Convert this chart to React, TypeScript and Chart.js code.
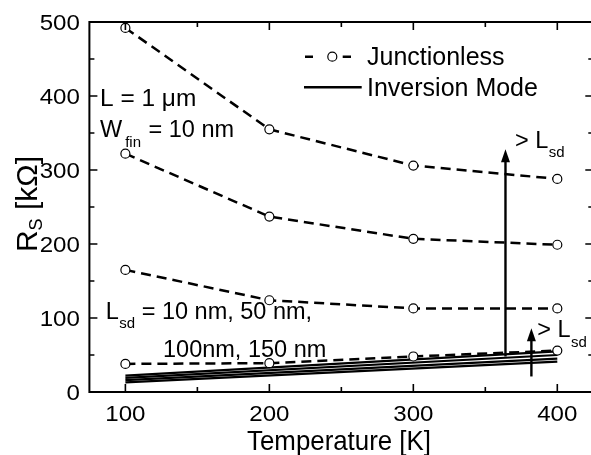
import { useEffect, useRef } from "react";
import { Chart, registerables } from "chart.js";

Chart.register(...registerables);

// ---- data ----
const temperatures = [100, 200, 300, 400];
const junctionless1 = [492, 355, 306, 288];
const junctionless2 = [322, 237, 207, 199];
const junctionless3 = [165, 124, 113, 113];
const junctionless4 = [38, 39, 48, 56];

const inversionTemps = [100, 400];
const inversion1 = [22, 55];
const inversion2 = [19, 50];
const inversion3 = [16, 45];
const inversion4 = [13, 41];

const xTicks = [100, 200, 300, 400];
const xMinorTicks = [150, 250, 350];
const yTicks = [0, 100, 200, 300, 400, 500];
const yMinorTicks = [50, 150, 250, 350, 450];

// arrows: [temperature, from R, to R]
const bigArrow = [364, 48, 328];
const smallArrow = [382, 21, 86];

const FONT = '"Liberation Sans", Arial, Helvetica, sans-serif';

type Run = [string, number, number]; // text, size, dy

function drawText(ctx: CanvasRenderingContext2D, s: string, x: number, y: number, size: number, align: CanvasTextAlign = "left", sx = 1) {
  ctx.save();
  ctx.font = `${size}px ${FONT}`;
  ctx.textAlign = align;
  ctx.textBaseline = "alphabetic";
  ctx.translate(x, y);
  ctx.scale(sx, 1);
  ctx.fillText(s, 0, 0);
  const w = ctx.measureText(s).width * sx;
  ctx.restore();
  return w;
}

function drawRuns(ctx: CanvasRenderingContext2D, runs: Run[], x: number, y: number, gaps: number[] = []) {
  let cx = x;
  runs.forEach((r, i) => {
    cx += gaps[i] || 0;
    cx += drawText(ctx, r[0], cx, y + r[2], r[1]);
  });
}

function arrow(ctx: CanvasRenderingContext2D, x: number, yFrom: number, yTo: number) {
  const headLen = 13;
  const headW = 4.5;
  ctx.beginPath();
  ctx.lineWidth = 2.4;
  ctx.moveTo(x, yFrom);
  ctx.lineTo(x, yTo + headLen - 2);
  ctx.stroke();
  ctx.beginPath();
  ctx.moveTo(x, yTo);
  ctx.lineTo(x - headW, yTo + headLen);
  ctx.lineTo(x + headW, yTo + headLen);
  ctx.closePath();
  ctx.fill();
}

const decor = {
  id: "decor",
  afterDraw(chart: any) {
    const ctx: CanvasRenderingContext2D = chart.ctx;
    const { left, right, top, bottom } = chart.chartArea;
    const xs = chart.scales.x;
    const ys = chart.scales.y;
    ctx.save();
    ctx.strokeStyle = "#000";
    ctx.fillStyle = "#000";

    // frame
    ctx.lineWidth = 2;
    ctx.strokeRect(left, top, right - left, bottom - top);

    // ticks (inside, mirrored)
    ctx.lineWidth = 1.6;
    ctx.beginPath();
    const tx = (v: number, len: number) => {
      const x = xs.getPixelForValue(v);
      ctx.moveTo(x, bottom);
      ctx.lineTo(x, bottom - len);
      ctx.moveTo(x, top);
      ctx.lineTo(x, top + len);
    };
    const ty = (v: number, len: number) => {
      const y = ys.getPixelForValue(v);
      ctx.moveTo(left, y);
      ctx.lineTo(left + len, y);
      ctx.moveTo(right, y);
      ctx.lineTo(right - len, y);
    };
    xTicks.forEach((v) => tx(v, 8));
    xMinorTicks.forEach((v) => tx(v, 5));
    yTicks.forEach((v) => ty(v, 8));
    yMinorTicks.forEach((v) => ty(v, 5));
    ctx.stroke();

    // tick labels
    xTicks.forEach((v) => drawText(ctx, String(v), xs.getPixelForValue(v), bottom + 29, 21.5, "center", 1.12));
    yTicks.forEach((v) => drawText(ctx, String(v), left - 9.5, ys.getPixelForValue(v) + 7.6, 21.5, "right", 1.12));

    // x title
    drawText(ctx, "Temperature [K]", 339, 450, 27.5, "center", 0.94);

    // y title (rotated, with subscript)
    ctx.save();
    ctx.translate(37, 204);
    ctx.rotate(-Math.PI / 2);
    ctx.font = `30px ${FONT}`;
    const wR = ctx.measureText("R").width;
    const wRest = ctx.measureText(" [kΩ]").width;
    ctx.font = `18px ${FONT}`;
    const wS = ctx.measureText("S").width;
    const total = wR + wS + wRest;
    let cx = -total / 2;
    cx += drawText(ctx, "R", cx, 0, 30);
    cx += drawText(ctx, "S", cx, 5, 18);
    drawText(ctx, " [kΩ]", cx, 0, 30);
    ctx.restore();

    // legend
    ctx.lineWidth = 2.5;
    ctx.beginPath();
    ctx.moveTo(305, 56.7);
    ctx.lineTo(313, 56.7);
    ctx.moveTo(342.7, 56.7);
    ctx.lineTo(351, 56.7);
    ctx.stroke();
    ctx.beginPath();
    ctx.lineWidth = 1.2;
    ctx.fillStyle = "#fff";
    ctx.arc(332.3, 56.7, 4.5, 0, Math.PI * 2);
    ctx.fill();
    ctx.stroke();
    ctx.fillStyle = "#000";
    ctx.beginPath();
    ctx.lineWidth = 2.5;
    ctx.moveTo(304, 87.3);
    ctx.lineTo(361.7, 87.3);
    ctx.stroke();
    drawText(ctx, "Junctionless", 367, 65, 25);
    drawText(ctx, "Inversion Mode", 367, 96, 25);

    // annotations
    drawText(ctx, "L = 1 \u03bcm", 100, 106, 23.5, "left", 1.04);
    drawRuns(ctx, [["W", 23.5, 0], ["fin", 15, 10], [" = 10 nm", 23.5, 0]], 100, 136.7, [0, 3, 1]);
    drawRuns(ctx, [["L", 23.5, 0], ["sd", 15, 9], [" = 10 nm, 50 nm,", 23.5, 0]], 105.7, 319.4, [0, 0.5, 0]);
    drawText(ctx, "100nm, 150 nm", 163, 356.7, 23.5);
    drawRuns(ctx, [["> L", 23.5, 0], ["sd", 15, 8.5]], 515, 148, [0, 0.5]);
    drawRuns(ctx, [["> L", 23.5, 0], ["sd", 15, 10]], 537.3, 336.7, [0, 0.5]);

    // arrows
    arrow(ctx, xs.getPixelForValue(bigArrow[0]), ys.getPixelForValue(bigArrow[1]), ys.getPixelForValue(bigArrow[2]));
    arrow(ctx, xs.getPixelForValue(smallArrow[0]), ys.getPixelForValue(smallArrow[1]), ys.getPixelForValue(smallArrow[2]));

    ctx.restore();
  },
};

function jlDataset(values: number[]) {
  return {
    data: temperatures.map((t, i) => ({ x: t, y: values[i] })),
    borderColor: "#000",
    borderWidth: 2.5,
    borderDash: [10, 6],
    pointRadius: 4.5,
    pointBorderWidth: 1.2,
    pointBackgroundColor: "#fff",
    pointBorderColor: "#000",
    fill: false,
    tension: 0,
    order: 0,
  };
}

function imDataset(values: number[]) {
  return {
    data: inversionTemps.map((t, i) => ({ x: t, y: values[i] })),
    borderColor: "#000",
    borderWidth: 2.2,
    pointRadius: 0,
    fill: false,
    tension: 0,
    order: 1,
  };
}

export default function App() {
  const ref = useRef<HTMLCanvasElement>(null);
  useEffect(() => {
    if (!ref.current) return;
    const chart = new Chart(ref.current, {
      type: "line",
      data: {
        datasets: [
          jlDataset(junctionless1),
          jlDataset(junctionless2),
          jlDataset(junctionless3),
          jlDataset(junctionless4),
          imDataset(inversion1),
          imDataset(inversion2),
          imDataset(inversion3),
          imDataset(inversion4),
        ] as any,
      },
      options: {
        responsive: false,
        maintainAspectRatio: false,
        animation: false,
        devicePixelRatio: 1,
        layout: { padding: { left: 89.4, right: 6.7, top: 22, bottom: 63 } },
        scales: {
          x: { type: "linear", min: 75, max: 425, display: false },
          y: { type: "linear", min: 0, max: 500, display: false },
        },
        plugins: { legend: { display: false }, tooltip: { enabled: false } },
      },
      plugins: [decor],
    });
    return () => chart.destroy();
  }, []);
  return (
    <div style={{ position: "fixed", left: 0, top: 0, width: 591, height: 455, overflow: "hidden", background: "#fff" }}>
      <canvas ref={ref} width={600} height={455} style={{ display: "block", width: 600, height: 455 }} />
    </div>
  );
}
